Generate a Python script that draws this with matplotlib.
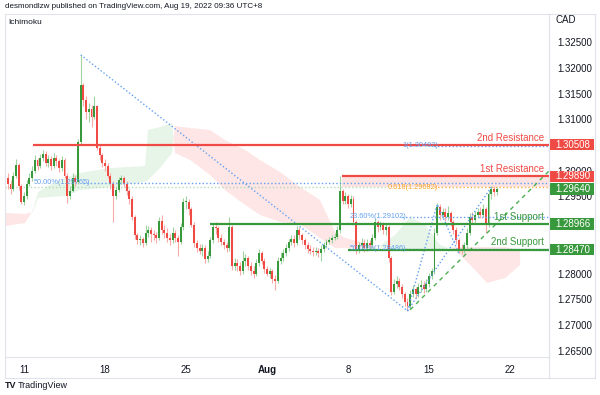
import numpy as np
import matplotlib.pyplot as plt
import matplotlib.transforms as mtransforms
from matplotlib.patches import Rectangle
from matplotlib.lines import Line2D

plt.rcParams['font.family'] = ['Liberation Sans', 'DejaVu Sans']

# USDCAD 4h candles, Jul 8 - Aug 19 2022 (index = candle number, weekends skipped)
closes = [
    1.2975, 1.2965, 1.2990, 1.3012, 1.2970, 1.2940,
    1.2950, 1.2975, 1.2985, 1.3000, 1.3020, 1.3010,
    1.3025, 1.3032, 1.3015, 1.3022, 1.3010, 1.3025,
    1.3018, 1.3005, 1.3020, 1.2990, 1.2950, 1.2960,
    1.2985, 1.2978, 1.3055, 1.3167, 1.3138, 1.3115,
    1.3120, 1.3105, 1.3125, 1.3045, 1.3030, 1.3015,
    1.3010, 1.2990, 1.2975, 1.2950, 1.2962, 1.2982,
    1.2985, 1.2975, 1.2960, 1.2945, 1.2910, 1.2875,
    1.2865, 1.2868, 1.2860, 1.2880, 1.2885, 1.2878,
    1.2875, 1.2870, 1.2902, 1.2885, 1.2880, 1.2870,
    1.2865, 1.2880, 1.2870, 1.2862, 1.2890, 1.2940,
    1.2940, 1.2925, 1.2895, 1.2860, 1.2850, 1.2845,
    1.2850, 1.2828, 1.2835, 1.2865, 1.2890, 1.2888,
    1.2870, 1.2862, 1.2855, 1.2850, 1.2890, 1.2815,
    1.2820, 1.2815, 1.2805, 1.2825, 1.2830, 1.2815,
    1.2805, 1.2800, 1.2820, 1.2840, 1.2825, 1.2810,
    1.2800, 1.2805, 1.2790, 1.2785, 1.2825, 1.2830,
    1.2840, 1.2850, 1.2862, 1.2868, 1.2860, 1.2885,
    1.2875, 1.2865, 1.2855, 1.2848, 1.2845, 1.2842,
    1.2845, 1.2840, 1.2848, 1.2855, 1.2862, 1.2866,
    1.2870, 1.2872, 1.2885, 1.2960, 1.2942, 1.2950,
    1.2935, 1.2945, 1.2900, 1.2845, 1.2855, 1.2860,
    1.2850, 1.2860, 1.2855, 1.2870, 1.2900, 1.2890,
    1.2895, 1.2885, 1.2890, 1.2830, 1.2765, 1.2780,
    1.2785, 1.2775, 1.2760, 1.2745, 1.2738, 1.2760,
    1.2770, 1.2760, 1.2775, 1.2778, 1.2770, 1.2780,
    1.2795, 1.2805, 1.2880, 1.2930, 1.2915, 1.2920,
    1.2910, 1.2918, 1.2900, 1.2885, 1.2865, 1.2848,
    1.2845, 1.2855, 1.2880, 1.2910, 1.2905, 1.2915,
    1.2920, 1.2915, 1.2925, 1.2895, 1.2955, 1.2965,
    1.2958, 1.2964,
]
highs = [
    1.2995, 1.2982, 1.2998, 1.3022, 1.3015, 1.2975,
    1.2958, 1.2982, 1.2995, 1.3010, 1.3030, 1.3025,
    1.3032, 1.3040, 1.3038, 1.3030, 1.3028, 1.3035,
    1.3030, 1.3022, 1.3028, 1.3025, 1.2995, 1.2970,
    1.2995, 1.2992, 1.3062, 1.3225, 1.3170, 1.3145,
    1.3132, 1.3128, 1.3145, 1.3128, 1.3050, 1.3035,
    1.3022, 1.3015, 1.2995, 1.2980, 1.2970, 1.2988,
    1.2992, 1.2990, 1.2980, 1.2965, 1.2950, 1.2915,
    1.2880, 1.2875, 1.2872, 1.2895, 1.2892, 1.2890,
    1.2885, 1.2882, 1.2910, 1.2915, 1.2895, 1.2888,
    1.2878, 1.2890, 1.2885, 1.2875, 1.2898, 1.2948,
    1.2950, 1.2945, 1.2930, 1.2900, 1.2865, 1.2858,
    1.2858, 1.2855, 1.2845, 1.2872, 1.2898, 1.2900,
    1.2892, 1.2878, 1.2868, 1.2862, 1.2910, 1.2895,
    1.2830, 1.2828, 1.2822, 1.2845, 1.2838, 1.2835,
    1.2822, 1.2815, 1.2828, 1.2848, 1.2845, 1.2830,
    1.2815, 1.2812, 1.2810, 1.2798, 1.2832, 1.2842,
    1.2848, 1.2858, 1.2868, 1.2875, 1.2875, 1.2892,
    1.2890, 1.2880, 1.2870, 1.2862, 1.2855, 1.2852,
    1.2852, 1.2850, 1.2855, 1.2862, 1.2868, 1.2872,
    1.2876, 1.2880, 1.2892, 1.2989, 1.2965, 1.2958,
    1.2955, 1.2952, 1.2950, 1.2905, 1.2862, 1.2870,
    1.2868, 1.2868, 1.2866, 1.2878, 1.2908, 1.2905,
    1.2902, 1.2900, 1.2898, 1.2895, 1.2835, 1.2790,
    1.2795, 1.2792, 1.2780, 1.2765, 1.2752, 1.2768,
    1.2778, 1.2775, 1.2782, 1.2788, 1.2785, 1.2790,
    1.2802, 1.2812, 1.2888, 1.2938, 1.2935, 1.2928,
    1.2928, 1.2932, 1.2922, 1.2905, 1.2890, 1.2870,
    1.2858, 1.2862, 1.2888, 1.2918, 1.2920, 1.2922,
    1.2928, 1.2930, 1.2935, 1.2930, 1.2962, 1.2970,
    1.2970, 1.2968,
]
lows = [
    1.2965, 1.2955, 1.2960, 1.2985, 1.2962, 1.2935,
    1.2933, 1.2945, 1.2970, 1.2980, 1.2995, 1.3002,
    1.3005, 1.3018, 1.3010, 1.3008, 1.3002, 1.3005,
    1.3010, 1.2998, 1.3000, 1.2985, 1.2937, 1.2945,
    1.2958, 1.2970, 1.2975, 1.3050, 1.3125, 1.3100,
    1.3095, 1.3085, 1.3100, 1.3040, 1.3020, 1.3008,
    1.3000, 1.2985, 1.2965, 1.2900, 1.2945, 1.2958,
    1.2975, 1.2968, 1.2952, 1.2935, 1.2905, 1.2868,
    1.2858, 1.2855, 1.2852, 1.2855, 1.2872, 1.2862,
    1.2865, 1.2860, 1.2865, 1.2878, 1.2870, 1.2862,
    1.2855, 1.2860, 1.2862, 1.2835, 1.2858, 1.2885,
    1.2925, 1.2915, 1.2890, 1.2852, 1.2842, 1.2838,
    1.2835, 1.2820, 1.2822, 1.2830, 1.2860, 1.2878,
    1.2862, 1.2855, 1.2848, 1.2842, 1.2845, 1.2808,
    1.2808, 1.2805, 1.2798, 1.2800, 1.2815, 1.2808,
    1.2798, 1.2792, 1.2795, 1.2815, 1.2818, 1.2802,
    1.2795, 1.2792, 1.2782, 1.2768, 1.2782, 1.2818,
    1.2825, 1.2835, 1.2845, 1.2855, 1.2852, 1.2855,
    1.2868, 1.2858, 1.2848, 1.2840, 1.2838, 1.2835,
    1.2836, 1.2832, 1.2825, 1.2842, 1.2850, 1.2858,
    1.2860, 1.2865, 1.2868, 1.2880, 1.2935, 1.2935,
    1.2928, 1.2930, 1.2895, 1.2838, 1.2840, 1.2848,
    1.2842, 1.2845, 1.2848, 1.2850, 1.2865, 1.2882,
    1.2885, 1.2878, 1.2875, 1.2822, 1.2758, 1.2760,
    1.2772, 1.2768, 1.2752, 1.2738, 1.2728, 1.2732,
    1.2755, 1.2752, 1.2755, 1.2765, 1.2762, 1.2765,
    1.2775, 1.2790, 1.2800, 1.2875, 1.2905, 1.2908,
    1.2902, 1.2905, 1.2892, 1.2878, 1.2858, 1.2840,
    1.2838, 1.2840, 1.2850, 1.2875, 1.2898, 1.2900,
    1.2908, 1.2908, 1.2910, 1.2880, 1.2890, 1.2945,
    1.2950, 1.2952,
]
first_open = 1.2985

# Ichimoku cloud (leading spans), positions in candle index
cloud_x = [-1.0, 6.4, 9.3, 11.2, 15.6, 21.2, 26.7, 37.9, 50.8, 51.9, 56.4, 60.8,
           61.9, 67.5, 74.9, 80.4, 87.9, 93.4, 100.8, 108.2, 115.6, 121.2, 124.9,
           132.3, 137.1, 143.4, 149.0, 154.5, 160.1, 165.6, 171.2, 177.5, 184.2, 189.7]
span_a = [1.28927, 1.28985, 1.29238, 1.29587, 1.29723, 1.29859, 1.29956, 1.30053,
          1.30092, 1.30791, 1.30850, 1.30927, 1.30345, 1.30209, 1.29918, 1.29626,
          1.29335, 1.29141, 1.29005, 1.28966, 1.28694, 1.28500, 1.28500, 1.28500,
          1.28519, 1.28752, 1.29102, 1.28947, 1.28558, 1.28461, 1.28170, 1.27820,
          1.27917, 1.28170]
span_b = [1.29180, 1.29160, 1.29199, 1.29471, 1.29490, 1.29510, 1.29626, 1.29684,
          1.29782, 1.29820, 1.30053, 1.30345, 1.30869, 1.30830, 1.30791, 1.30597,
          1.30403, 1.30209, 1.29976, 1.29684, 1.29432, 1.28811, 1.28694, 1.28597,
          1.28519, 1.28461, 1.28461, 1.28461, 1.28461, 1.28519, 1.28519, 1.28519,
          1.28519, 1.28461]

# support / resistance levels
res2, res1, sup1, sup2 = 1.30508, 1.29890, 1.28966, 1.28470
last_price = 1.29640
level_start = {'res2': 9.3, 'res1': 123.8, 'sup1': 74.9, 'sup2': 126.0}

# fibonacci drawings
fib_main_x = [27, 148]
fib_main_y = [1.3225, 1.2728]
fib_ext_x = [148, 159, 167]
fib_ext_y = [1.2728, 1.2935, 1.2840]
fib_ret_x = [148, 179]
fib_ret_y = [1.2728, 1.2968]
trend_x = [149, 200.4]
trend_y = [1.2730, 1.29995]

xlabels = ['11', '18', '25', 'Aug', '8', '15', '22']
xlabel_pos = [6, 36, 66, 96, 126, 156, 186]
ytick_vals = [1.265, 1.270, 1.275, 1.280, 1.295, 1.300, 1.310, 1.315, 1.320, 1.325]

RED = '#f04a45'
GREEN = '#38983c'
BLUE = '#64a0f0'

fig = plt.figure(figsize=(6, 3.95), dpi=100)
ax = fig.add_axes([5 / 600, 1 - 357 / 395, 544 / 600, 343 / 395])
ax.set_xlim(-1.04, 200.4)
ax.set_ylim(1.26383, 1.33044)

# cloud
ca = np.array(span_a)
cb = np.array(span_b)
ax.fill_between(cloud_x, ca, cb, where=ca >= cb, interpolate=True,
                color='#4caf50', alpha=0.13, lw=0, zorder=0.5)
ax.fill_between(cloud_x, ca, cb, where=ca < cb, interpolate=True,
                color='#f44336', alpha=0.13, lw=0, zorder=0.5)

# candles
x = np.arange(len(closes))
c = np.array(closes)
o = np.array([first_open] + closes[:-1])
up = c >= o
body_col = np.where(up, GREEN, RED)
wick_col = np.where(up, '#9fd3a1', '#f7aaa7')
ax.vlines(x, lows, highs, colors=wick_col, lw=0.8, zorder=2)
h = np.where(np.abs(c - o) < 0.00006, 0.00006, c - o)
ax.bar(x, h, bottom=o, width=0.72, color=body_col, lw=0, zorder=2.2)

xmax = 200.4
# resistance zone and levels
ax.fill_between([level_start['res1'], xmax], 1.29682, res1, color='#f44336',
                alpha=0.15, lw=0, zorder=1)
ax.hlines(res2, level_start['res2'], xmax, color=RED, lw=1.6, zorder=3)
ax.hlines(res1, level_start['res1'], xmax, color=RED, lw=1.6, zorder=3)
ax.hlines(sup1, level_start['sup1'], xmax, color=GREEN, lw=1.6, zorder=3)
ax.hlines(sup2, level_start['sup2'], xmax, color=GREEN, lw=1.6, zorder=3)

dot = (0, (1, 1.6))
ax.hlines(1.29765, 27.8, xmax, color=BLUE, lw=1, linestyles=[dot], zorder=2.5)
ax.hlines(1.29682, -1.04, 140.8, color='#b5dcb5', lw=1, linestyles=[dot], zorder=1.5)
ax.hlines(1.29682, 158, xmax, color='#f5b041', lw=1, linestyles=[dot], zorder=2.5)
ax.hlines(1.30482, 158, xmax, color=BLUE, lw=1, linestyles=[dot], zorder=2.5)
ax.hlines(1.29102, 146, xmax, color=BLUE, lw=1, linestyles=[dot], zorder=2.5)
ax.hlines(1.28486, 146, xmax, color=BLUE, lw=1, linestyles=[dot], zorder=2.5)

ax.plot(fib_main_x, fib_main_y, color=BLUE, lw=1, ls=dot, zorder=2.5)
ax.plot(fib_ext_x, fib_ext_y, color=BLUE, lw=1, ls=dot, zorder=2.5)
ax.plot(fib_ret_x, fib_ret_y, color=BLUE, lw=1, ls=dot, zorder=2.5)
ax.plot(trend_x, trend_y, color='#4caf50', lw=1, ls=(0, (3, 3)), zorder=2.5)

fs_fib = 5.3
ax.text(9.5, 1.29765, '50.00%(1.29765)', color=BLUE, fontsize=fs_fib, va='center')
ax.text(146, 1.30482, '1(1.30482)', color=BLUE, fontsize=fs_fib, va='center')
ax.text(140.8, 1.29682, '0.618(1.29682)', color='#f5a623', fontsize=fs_fib, va='center')
ax.text(126.7, 1.29102, '23.60%(1.29102)', color=BLUE, fontsize=fs_fib, va='center')
ax.text(126.7, 1.28486, '50.00%(1.28486)', color=BLUE, fontsize=fs_fib, va='center')

# level names
for name, price, col in [('2nd Resistance', res2, RED), ('1st Resistance', res1, RED),
                         ('1st Support', sup1, GREEN), ('2nd Support', sup2, GREEN)]:
    ax.text(198.5, price + 0.0004, name, color=col, fontsize=7, ha='right',
            va='bottom', zorder=4)

# right axis (ticks hidden under the level boxes are left out)
ax.yaxis.tick_right()
ax.set_yticks(ytick_vals)
ax.set_yticklabels(['%.5f' % v for v in ytick_vals])
ax.tick_params(axis='y', length=0, pad=6, labelsize=7, labelcolor='#131722')
ax.set_xticks(xlabel_pos)
ax.set_xticklabels(xlabels)
ax.tick_params(axis='x', length=0, pad=6, labelsize=7, labelcolor='#131722')
ax.get_xticklabels()[3].set_fontweight('bold')
for s in ax.spines.values():
    s.set_color('#e0e3eb')
    s.set_linewidth(0.8)

trans = mtransforms.blended_transform_factory(ax.transAxes, ax.transData)
for price, col in [(res2, RED), (res1, RED), (last_price, GREEN), (sup1, GREEN), (sup2, GREEN)]:
    ax.add_patch(Rectangle((1.0, price - 0.00113), 45 / 544, 0.00226, transform=trans,
                           facecolor=col, edgecolor='none', clip_on=False, zorder=5))
    ax.text(1.0 + 6 / 544, price, '%.5f' % price, transform=trans, color='white',
            fontsize=7, va='center', ha='left', clip_on=False, zorder=6)

# frame lines outside axes
for (x0, y0, x1, y1) in [(5, 378, 595, 378), (549, 14, 549, 378), (595, 14, 595, 378),
                         (549, 14, 595, 14), (5, 357, 5, 378)]:
    fig.add_artist(Line2D([x0 / 600, x1 / 600], [1 - y0 / 395, 1 - y1 / 395],
                          transform=fig.transFigure, color='#e0e3eb', lw=0.8))

fig.text(5 / 600, 1 - 7 / 395, 'desmondlzw published on TradingView.com, Aug 19, 2022 09:36 UTC+8',
         fontsize=5.8, color='#131722', va='center')
fig.text(8 / 600, 1 - 23 / 395, 'Ichimoku', fontsize=6, color='#131722', va='center')
fig.text(555 / 600, 1 - 20 / 395, 'CAD', fontsize=7, color='#131722', va='center')
fig.text(5 / 600, 1 - 386 / 395, 'TV', fontsize=6.5, weight='bold', color='#131722', va='center')
fig.text(18 / 600, 1 - 386 / 395, 'TradingView', fontsize=6.5, color='#131722', va='center')

fig.savefig('out.png', dpi=100)
